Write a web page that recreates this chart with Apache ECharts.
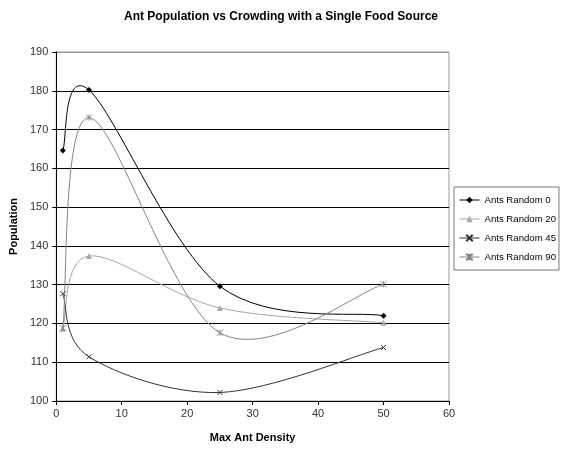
<!DOCTYPE html>
<html>
<head>
<meta charset="utf-8">
<script src="https://cdn.jsdelivr.net/npm/echarts@6/dist/echarts.min.js"></script>
<style>html,body{margin:0;padding:0;background:#fff}#c{width:562px;height:451px}</style>
</head>
<body>
<div id="c"></div>
<script>
const xValues = [1, 5, 25, 50];
const seriesNames = ['Ants Random 0', 'Ants Random 20', 'Ants Random 45', 'Ants Random 90'];
const random0 = [164.6, 180.2, 129.6, 122.0];
const random20 = [118.6, 137.4, 124.0, 120.2];
const random45 = [127.7, 111.4, 102.2, 113.8];
const random90 = [118.8, 173.1, 117.6, 130.1];
const yTicks = [100, 110, 120, 130, 140, 150, 160, 170, 180, 190];
const xTicks = [0, 10, 20, 30, 40, 50, 60];

const FONT = "'Liberation Sans',Arial,sans-serif";
const colors = ['#000000', '#a8a8a8', '#333333', '#858585'];
const xPath = 'path://M0,0L10,10M10,0L0,10';
const starPath = 'path://M0,0L10,10M10,0L0,10M5,0L5,10';
const symbols = ['diamond', 'triangle', xPath, starPath];
const sizes = [6, 6, 5, 6];
const allData = [random0, random20, random45, random90];

// Excel-style smoothed segment (Catmull-Rom, tangent/6) through the axis scales
function makeRenderItem(values, color) {
  return function (params, api) {
    const i = params.dataIndex;
    const n = xValues.length;
    if (i >= n - 1) return null;
    const p = k => api.coord([xValues[Math.max(0, Math.min(n - 1, k))], values[Math.max(0, Math.min(n - 1, k))]]);
    const p0 = p(i - 1), p1 = p(i), p2 = p(i + 1), p3 = p(i + 2);
    return {
      type: 'bezierCurve',
      shape: {
        x1: p1[0], y1: p1[1],
        cpx1: p1[0] + (p2[0] - p0[0]) / 6, cpy1: p1[1] + (p2[1] - p0[1]) / 6,
        cpx2: p2[0] - (p3[0] - p1[0]) / 6, cpy2: p2[1] - (p3[1] - p1[1]) / 6,
        x2: p2[0], y2: p2[1]
      },
      style: {stroke: color, lineWidth: 1, fill: null},
      silent: true
    };
  };
}

const curveSeries = allData.map((vals, i) => ({
  type: 'custom',
  name: 'curve' + i,
  renderItem: makeRenderItem(vals, colors[i]),
  data: xValues.map((x, j) => [x, vals[j]]),
  encode: {x: 0, y: 1},
  z: 2,
  silent: true
}));

const markerSeries = seriesNames.map((name, i) => ({
  name: name,
  type: 'line',
  data: xValues.map((x, j) => [x, allData[i][j]]),
  symbol: symbols[i],
  symbolSize: sizes[i],
  showAllSymbol: true,
  lineStyle: {color: colors[i], width: 1, opacity: 0},
  itemStyle: {color: colors[i], borderColor: colors[i], borderWidth: i >= 2 ? 1 : 0},
  z: 3
}));

const chart = echarts.init(document.getElementById('c'), null, {renderer: 'canvas'});
chart.setOption({
  backgroundColor: '#ffffff',
  animation: false,
  title: {
    text: 'Ant Population vs Crowding with a Single Food Source',
    left: 'center', top: 6,
    textStyle: {fontFamily: FONT, fontSize: 12, fontWeight: 'bold', color: '#000'}
  },
  legend: {
    orient: 'vertical', left: 454, top: 187,
    padding: [8, 3, 8, 5],
    itemGap: 9, itemWidth: 20, itemHeight: 8,
    borderColor: '#777', borderWidth: 1,
    textStyle: {fontFamily: FONT, fontSize: 9.6, color: '#000'},
    data: seriesNames.map((n, i) => ({name: n, lineStyle: {color: colors[i], width: 1, opacity: 1}}))
  },
  grid: {left: 53, right: 113, top: 52, bottom: 50, show: true, borderColor: '#999', borderWidth: 1, backgroundColor: '#fff'},
  xAxis: {
    type: 'value', min: xTicks[0], max: xTicks[xTicks.length - 1], interval: 10,
    name: 'Max Ant Density', nameLocation: 'middle', nameGap: 31,
    nameTextStyle: {fontFamily: FONT, fontSize: 11, fontWeight: 'bold', color: '#000'},
    axisLine: {show: true, lineStyle: {color: '#000', width: 1}},
    axisTick: {show: true, inside: false, length: 4, lineStyle: {color: '#000'}},
    axisLabel: {fontFamily: FONT, fontSize: 11, color: '#333', margin: 7},
    splitLine: {show: false}
  },
  yAxis: {
    type: 'value', min: yTicks[0], max: yTicks[yTicks.length - 1], interval: 10,
    name: 'Population', nameLocation: 'middle', nameGap: 27, nameRotate: 90,
    nameTextStyle: {fontFamily: FONT, fontSize: 11, fontWeight: 'bold', color: '#000'},
    axisLine: {show: true, lineStyle: {color: '#000', width: 1}},
    axisTick: {show: true, inside: false, length: 4, lineStyle: {color: '#000'}},
    axisLabel: {fontFamily: FONT, fontSize: 11, color: '#333', margin: 8},
    splitLine: {show: true, lineStyle: {color: ['#000','#000','#000','#000','#000','#000','#000','#000','#000','#999'], width: 1}}
  },
  series: curveSeries.concat(markerSeries)
});
</script>
</body>
</html>
